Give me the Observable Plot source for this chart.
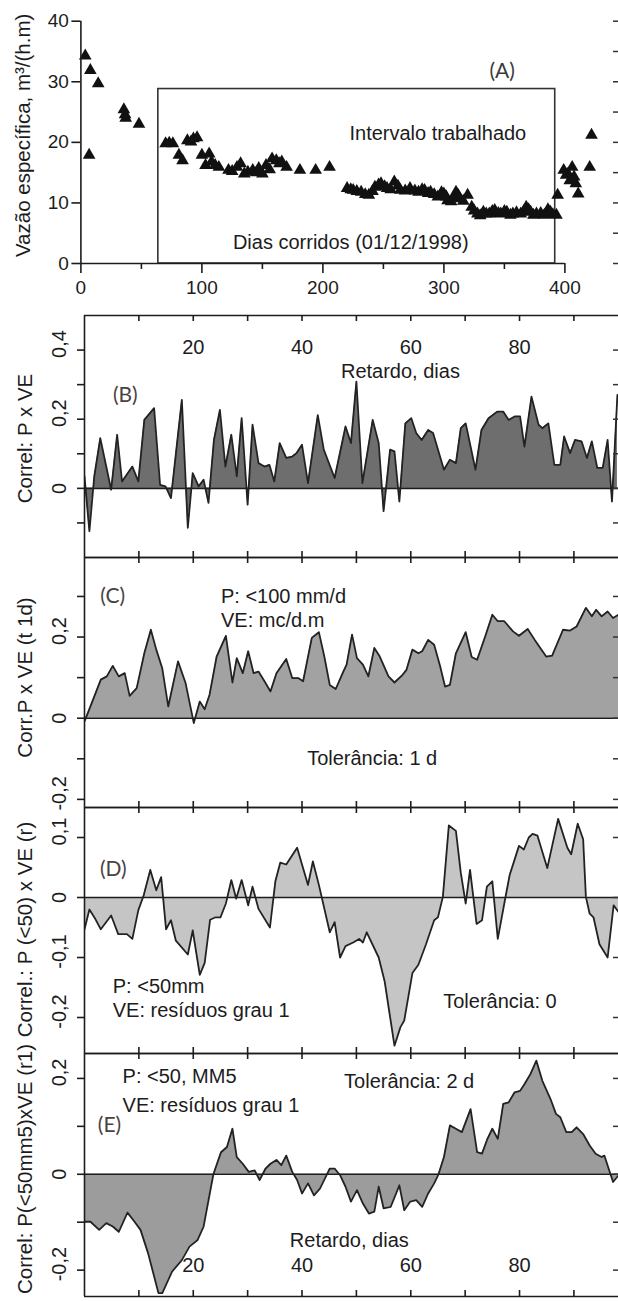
<!DOCTYPE html>
<html><head><meta charset="utf-8">
<script src="https://cdn.jsdelivr.net/npm/d3@7"></script>
<script src="https://cdn.jsdelivr.net/npm/@observablehq/plot@0.6"></script>
<style>
body{margin:0;background:#fff;}
#chart{position:relative;width:618px;height:1301px;overflow:hidden;background:#fff;}
#chart svg{position:absolute;left:0;}
</style></head><body><div id="chart"></div>
<script>
// ---------- Panel A data: vazão específica vs dias corridos ----------
const diasA = [3.6,6.8,7.8,14.3,35.5,36.5,37,48,70,73,76,81,84,88,91,93,96,100,103,106,108,111,114,122,125,129,132,135,138,142,145,147,150,153,156,158,161.5,164,166,170,181,194,205.5,220,223,225,228,231.6,235,238,241,243,246,248,251,253,256,259,262,264,268,272,276,279,282,284,287,289,292,295,298,300,302,303,306,308,310,312,313,316,319.6,323,325,327.7,330,332.6,335,337.5,340,342,345,347,350,352,355,357,360,363.5,366,368,370,371.7,374,376.5,380,383,386,388,390,393,394,399,401,402.6,404,406,407.6,409,411,420.5,422];
const vazaoA = [34.3,17.9,31.9,29.7,25.4,24.6,24.0,23.0,19.8,19.9,19.8,17.9,17.0,20.3,20.1,20.6,20.8,17.9,16.2,18.1,16.8,16.2,15.9,15.4,15.2,15.9,16.5,14.8,15.1,15.4,15.0,15.7,14.8,16.2,15.5,17.3,17.0,16.5,16.8,15.9,15.4,15.4,15.9,12.4,12.2,12.1,11.9,11.8,11.4,11.3,11.9,12.6,13.0,13.2,12.7,12.4,12.2,13.5,12.8,12.1,12.0,12.4,12.0,11.8,12.2,12.1,11.6,11.8,11.4,11.0,11.7,11.5,11.0,10.4,10.2,10.9,11.8,11.2,10.7,10.3,11.3,9.3,8.7,8.2,7.9,8.5,8.2,8.2,8.6,8.8,8.3,8.2,8.6,8.5,8.0,8.2,8.4,8.2,8.6,9.3,8.9,8.5,8.0,8.2,8.3,8.0,8.9,8.5,8.1,8.0,11.3,15.4,14.6,14.8,13.7,15.9,14.3,13.2,11.5,15.9,21.2];
const intervaloA = [64, 392];      // dias do intervalo trabalhado
const topoIntervaloA = 28.8;       // topo da caixa
const xTicksA = [0,100,200,300,400];
const xMinorA = [50,150,250,350];
const yTicksA = [0,10,20,30,40];
const yRightA = [0,5,10,15,20,25,30,35,40];

// ---------- Panel B ----------
const lagB = [0,0.9,1.8,2.9,4.9,6,6.9,8.8,9.9,11,12.8,13.9,14.9,15.9,17.9,19,19.9,21,21.9,22.8,23.8,24.9,25.9,27,28,28.9,30,30.9,32,33.1,34,34.9,35.9,37.1,38.2,39,40,41.1,42.9,44,46,48,49,50,51.1,53,54.1,55,56.2,57,57.9,59,60.1,61,62,63.2,64.1,66.1,67.2,68.3,69.2,70.1,71.9,73,74.3,75.9,77,78,79.1,80.1,80.9,82.2,83.5,84.2,85.3,86.4,87.5,88.2,89.3,90.2,91.4,92.4,93.3,94.3,95.3,96.2,97,98];
const corrB = [0.035,-0.124,0.035,0.145,-0.004,0.155,0.02,0.063,0.02,0.198,0.232,0.01,0.006,-0.028,0.256,-0.114,0.044,0.006,0.025,-0.042,0.14,0.227,0.063,0.155,0.035,0.203,-0.047,0.184,0.073,0.063,0.068,0.02,0.131,0.088,0.092,0.102,0.126,0.015,0.212,0.112,0.03,0.179,0.131,0.309,0.015,0.198,0.131,-0.066,0.112,0.107,-0.038,0.188,0.203,0.16,0.14,0.169,0.16,0.054,0.083,0.073,0.174,0.188,0.054,0.169,0.203,0.222,0.222,0.198,0.208,0.208,0.121,0.265,0.184,0.174,0.188,0.068,0.068,0.15,0.102,0.14,0.136,0.088,0.136,0.059,0.059,0.14,-0.038,0.27];

// ---------- Panel C ----------
const lagC = [0,1.2,3,4.1,5.2,6.3,7.4,8.3,9.6,11,12.2,13.2,14.3,15.4,17.2,18.6,20.1,21.2,22.1,23,24.3,26,27.2,28,29.1,30.1,31.1,32,33.1,34.2,35.3,37.1,38.2,39.3,40.2,41.8,43.1,44.1,45.1,46.2,47.6,48.2,49.2,50.1,51.2,52.2,53.3,54.3,55.9,57,58.5,59.2,60.3,61.4,62.1,63.2,64.3,65.4,66.3,67.2,68.3,70.1,71.2,72.2,73.7,75,76,77.2,78.8,79.9,81.5,82.8,84.9,86,88,89.3,90.5,92.2,93.3,94.1,95.1,96.2,97.2,98.2];
const corrC = [-0.008,0.033,0.095,0.103,0.129,0.103,0.111,0.055,0.074,0.16,0.218,0.169,0.123,0.029,0.14,0.086,-0.012,0.041,0.022,0.058,0.152,0.203,0.088,0.148,0.111,0.165,0.111,0.115,0.091,0.066,0.111,0.146,0.099,0.099,0.091,0.198,0.212,0.152,0.082,0.072,0.115,0.132,0.206,0.148,0.132,0.103,0.173,0.152,0.103,0.088,0.107,0.119,0.169,0.16,0.165,0.193,0.181,0.128,0.078,0.082,0.16,0.212,0.151,0.144,0.202,0.255,0.239,0.239,0.214,0.203,0.22,0.193,0.152,0.154,0.218,0.216,0.226,0.272,0.251,0.267,0.251,0.263,0.247,0.255];

// ---------- Panel D ----------
const lagD = [0,0.9,2,3,4.9,6.2,7.8,8.8,9.9,10.9,12.1,13.2,14.1,15,15.9,16.8,19,19.9,21.2,22.1,23.1,24.1,25,26,27,27.9,28.9,30.1,30.9,32,34.1,35.1,36,37.1,39.1,41.1,42,43.1,45.1,46,47,48,49.4,50.5,51.2,51.9,54.1,55.2,57,58.1,58.8,60.3,61.4,62.8,64.3,65,65.9,67,68.3,69.2,70.1,70.9,72.1,73.1,74,75,76,77.3,78.2,79.9,80.8,81.7,82.4,83.3,85.1,87.1,88.8,89.5,90.7,91.7,92.2,92.9,93.6,94.7,96.2,97.3,98.2];
const corrD = [-0.053,-0.02,-0.036,-0.053,-0.03,-0.061,-0.061,-0.069,-0.021,0.004,0.046,0.012,0.034,-0.053,-0.038,-0.072,-0.095,-0.055,-0.129,-0.109,-0.037,-0.033,-0.033,-0.01,0.029,-0.002,0.029,-0.013,0.018,-0.019,-0.05,0.027,0.058,0.055,0.083,0.021,0.06,0.021,-0.058,-0.041,-0.1,-0.081,-0.075,-0.069,-0.075,-0.058,-0.1,-0.14,-0.247,-0.216,-0.205,-0.126,-0.112,-0.078,-0.038,-0.033,0.001,0.12,0.111,0.041,-0.01,0.046,-0.044,-0.038,0.018,0.027,-0.069,-0.005,0.038,0.086,0.08,0.1,0.106,0.103,0.049,0.131,0.083,0.072,0.123,0.097,0.001,-0.027,-0.033,-0.078,-0.1,-0.013,-0.024];

// ---------- Panel E ----------
const lagE = [0,1.1,2.7,4,5.2,6.3,7.9,9.2,10.3,11.7,13.6,14.3,16.1,17.9,19.3,20.8,21.9,23.7,25.1,26.2,27.2,28,29.1,30.2,31.3,32.2,33.3,34.2,35.3,36.2,37.1,38.2,39.1,40,41.1,42.2,43.3,45.1,46,47,48,49,50.1,51.2,52.3,53.3,54.1,55,56.3,57.9,58.8,59.9,61,62.1,63.2,64.3,65.1,66.1,67.2,68.3,69.4,71,72.2,73.1,74.1,75,76,77,78,79.1,80.1,80.9,82,83.1,84.2,85.7,86.7,87.5,88.6,89.6,90.5,91.7,92.9,94,95.1,95.6,96.7,97.2,98.2];
const corrE = [-0.099,-0.099,-0.116,-0.102,-0.109,-0.12,-0.08,-0.099,-0.116,-0.165,-0.248,-0.248,-0.203,-0.179,-0.151,-0.137,-0.109,0,0.046,0.057,0.095,0.036,0.022,0.005,0.008,-0.012,0.012,0.022,0.03,0.019,0.039,0.005,-0.012,-0.04,-0.019,-0.044,-0.03,0.012,0.012,-0.002,-0.026,-0.057,-0.033,-0.061,-0.082,-0.078,-0.026,-0.071,-0.068,-0.023,-0.075,-0.057,-0.054,-0.068,-0.04,-0.019,0,0.036,0.102,0.095,0.088,0.136,0.046,0.043,0.074,0.095,0.074,0.147,0.15,0.171,0.174,0.188,0.209,0.237,0.195,0.157,0.126,0.119,0.088,0.088,0.098,0.084,0.06,0.043,0.036,0.039,0.001,-0.016,-0.002];

const lagTicks = [10,20,30,40,50,60,70,80,90];
const lagLabels = [20,40,60,80];

// ---------- helpers ----------
const FONT = '"Liberation Sans", Arial, Helvetica, sans-serif';
const LETTER_FONT = 'Lato, "Open Sans", sans-serif';
const INK = "#1c1c1c";
const W = 618;
const fmt = d => d === 0 ? "0" : String(d).replace(".", ",");
const chart = document.getElementById("chart");

function place(svg, top) {
  svg.style.position = "absolute";
  svg.style.top = top + "px";
  svg.style.left = "0px";
  chart.appendChild(svg);
}

function note(t, x, y, anchor = "start", extra = {}) {
  return Plot.text([t], {x: () => x, y: () => y, text: d => d, textAnchor: anchor,
    fontSize: 20, fill: INK, fontFamily: FONT, ...extra});
}
function letter(t, x, y) {
  return note(t, x, y, "middle", {fontFamily: LETTER_FONT, fontSize: 21, fill: "#4a4242"});
}

// ---------- Panel A ----------
{
  const ml = 80.4, mt = 20.7, mb = 37, h = 300;
  const plotW = W - ml;
  const data = diasA.map((d, i) => ({d, v: vazaoA[i]}));
  const svg = Plot.plot({
    width: W, height: h, marginLeft: ml, marginRight: 0, marginTop: mt, marginBottom: mb,
    x: {domain: [0, 444.3]}, y: {domain: [0, 40]},
    style: {fontFamily: FONT, fontSize: "19px", color: INK, background: "transparent", overflow: "visible"},
    marks: [
      Plot.rect([0], {x1: intervaloA[0], x2: intervaloA[1], y1: 0, y2: topoIntervaloA, fill: "none", stroke: "#333", strokeWidth: 1.6}),
      Plot.dot(data, {x: "d", y: "v", symbol: "triangle", r: 4.7, fill: "#111", stroke: "none"}),
      Plot.ruleX([0], {y1: 0, y2: d3.max(yTicksA), stroke: INK, strokeWidth: 1.6}),
      Plot.ruleY([0], {x1: 0, x2: d3.max(xTicksA), stroke: INK, strokeWidth: 1.6}),
      Plot.axisY({ticks: yTicksA, tickSize: 9, tickPadding: 3, label: null, fontSize: 19, strokeWidth: 1.6}),
      Plot.axisX({ticks: xTicksA, tickSize: 10, tickPadding: 7, label: null, fontSize: 19, strokeWidth: 1.6}),
      Plot.axisX({ticks: xMinorA, tickSize: 6, tickFormat: () => "", label: null, strokeWidth: 1.6}),
      Plot.tickY(yRightA, {y: d => d, insetLeft: plotW - 5, stroke: "#333", strokeWidth: 1.5}),
      Plot.text(["Vazão específica, m³/(h.m)"], {frameAnchor: "left", rotate: -90, dx: -57, dy: -7,
        fontSize: 20.5, lineAnchor: "middle", textAnchor: "middle", fill: INK}),
      note("(A)", 348.2, 31.8, "middle", {fontFamily: LETTER_FONT, fontSize: 21, fill: "#3a3a3a"}),
      note("Intervalo trabalhado", 295, 21.4, "middle"),
      note("Dias corridos (01/12/1998)", 223, 3.4, "middle")
    ]
  });
  place(svg, 0);
}

// ---------- Panels B–E ----------
function panel(cfg) {
  const ml = 84;
  const plotH = cfg.height - cfg.mt - cfg.mb;
  const plotW = W - ml;
  const data = cfg.lag.map((x, i) => ({x, y: cfg.corr[i]}));
  const zeroLabels = cfg.yLabels.filter(d => d === 0);
  const otherLabels = cfg.yLabels.filter(d => d !== 0);
  const marks = [
    Plot.areaY(data, {x: "x", y: "y", fill: cfg.fill, clip: true}),
    Plot.ruleY([0], {stroke: INK, strokeWidth: 1.6}),
    Plot.lineY(data, {x: "x", y: "y", stroke: "#222", strokeWidth: 1.8, clip: true}),
    Plot.ruleY(cfg.domain, {stroke: INK, strokeWidth: 1.6}),
    Plot.ruleX([0], {stroke: INK, strokeWidth: 1.6}),
    Plot.tickX(lagTicks, {x: d => d, insetBottom: plotH - 6, stroke: INK, strokeWidth: 1.6}),
    Plot.tickX(lagTicks, {x: d => d, insetTop: plotH - 6, stroke: INK, strokeWidth: 1.6}),
    Plot.tickY(cfg.yTicks, {y: d => d, insetLeft: plotW - 5, stroke: "#333", strokeWidth: 1.5}),
    Plot.axisY({ticks: cfg.yTicks, tickSize: 7, tickFormat: () => "", label: null, strokeWidth: 1.6}),
    Plot.axisY({ticks: zeroLabels, tickSize: 0, tickRotate: -90, tickPadding: 19, tickFormat: fmt, label: null, fontSize: 20}),
    Plot.axisY({ticks: otherLabels, tickSize: 0, tickRotate: -90, tickPadding: 19, tickFormat: fmt, label: null, fontSize: 20, dy: -6}),
    Plot.text([cfg.title], {frameAnchor: "left", rotate: -90, dx: -59, dy: cfg.titleDy,
      fontSize: 20.5, lineAnchor: "middle", textAnchor: "middle", fill: INK}),
    ...cfg.notes
  ];
  if (cfg.xLabels) {
    marks.push(Plot.text(lagLabels, {x: d => d, text: d => String(d), frameAnchor: cfg.xLabels.anchor,
      dy: cfg.xLabels.dy, fontSize: 20, lineAnchor: "middle", fill: INK}));
  }
  const svg = Plot.plot({
    width: W, height: cfg.height, marginLeft: ml, marginRight: 0, marginTop: cfg.mt, marginBottom: cfg.mb,
    x: {domain: [0, 98.2], axis: null}, y: {domain: cfg.domain},
    style: {fontFamily: FONT, fontSize: "20px", color: INK, background: "transparent", overflow: "visible"},
    marks
  });
  place(svg, cfg.top);
}

panel({
  top: 300, height: 257, mt: 15, mb: 0, domain: [-0.2, 0.5],
  lag: lagB, corr: corrB, fill: "#6e6e6e",
  yTicks: [-0.1, 0, 0.1, 0.2, 0.3, 0.4], yLabels: [0, 0.2, 0.4],
  title: "Correl: P x VE", titleDy: 2,
  xLabels: {anchor: "top", dy: 32},
  notes: [letter("(B)", 7.5, 0.27), note("Retardo, dias", 58.1, 0.337, "middle")]
});

panel({
  top: 557, height: 250, mt: 0, mb: 0, domain: [-0.22, 0.396],
  lag: lagC, corr: corrC, fill: "#a2a2a2",
  yTicks: [-0.2, -0.1, 0, 0.1, 0.2, 0.3], yLabels: [-0.2, 0, 0.2],
  title: "Corr.P x VE (t 1d)", titleDy: -5,
  notes: [letter("(C)", 5.2, 0.30), note("P: <100 mm/d", 25.1, 0.30), note("VE: mc/d.m", 25.1, 0.241),
          note("Tolerância: 1 d", 52.9, -0.099, "middle")]
});

panel({
  top: 807, height: 246, mt: 0, mb: 0, domain: [-0.26, 0.15],
  lag: lagD, corr: corrD, fill: "#c5c5c5",
  yTicks: [-0.2, -0.1, 0, 0.1], yLabels: [-0.2, -0.1, 0, 0.1],
  title: "Correl.: P (<50) x VE (r)", titleDy: -1,
  notes: [letter("(D)", 5.3, 0.047), note("P: <50mm", 5.2, -0.149), note("VE: resíduos grau 1", 5.2, -0.189),
          note("Tolerância: 0", 76.4, -0.174, "middle")]
});

panel({
  top: 1053, height: 248, mt: 0, mb: 5, domain: [-0.255, 0.252],
  lag: lagE, corr: corrE, fill: "#9c9c9c",
  yTicks: [-0.2, -0.1, 0, 0.1, 0.2], yLabels: [-0.2, 0, 0.2],
  title: "Correl: P(<50mm5)xVE (r1)", titleDy: -6,
  xLabels: {anchor: "bottom", dy: -31},
  notes: [letter("(E)", 4.6, 0.102), note("P: <50, MM5", 7.0, 0.203), note("VE: resíduos grau 1", 7.0, 0.144),
          note("Tolerância: 2 d", 59.7, 0.193, "middle"), note("Retardo, dias", 48.7, -0.139, "middle")]
});
</script></body></html>
